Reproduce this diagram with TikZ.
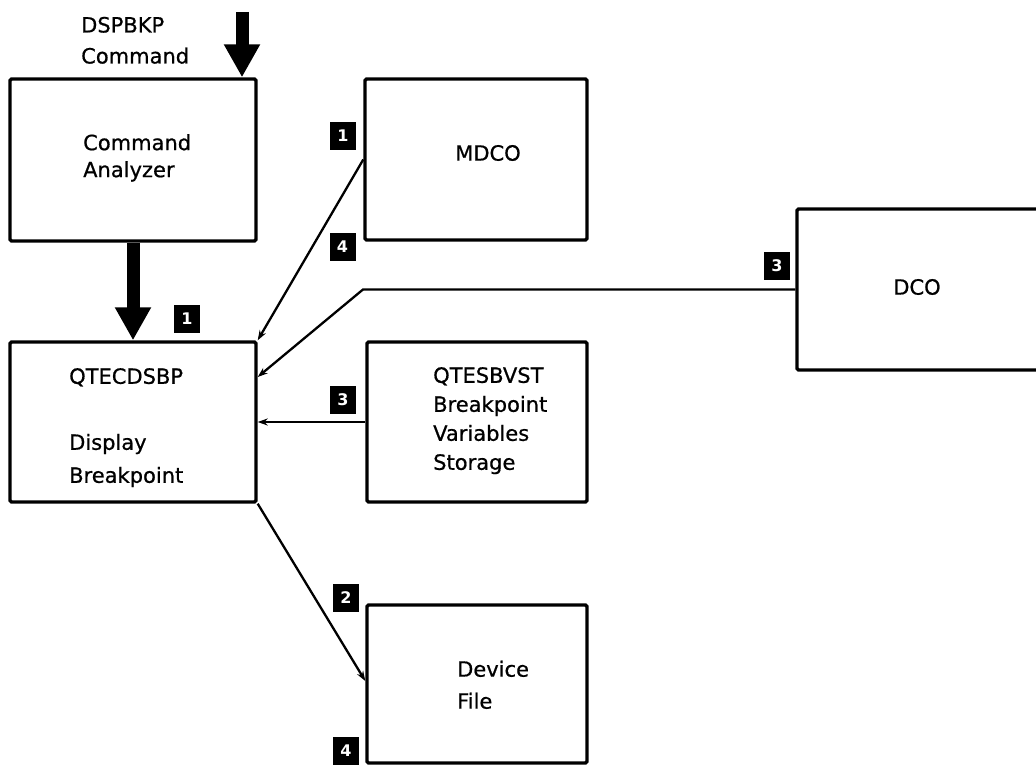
\documentclass[tikz,border=0pt]{standalone}
\usepackage{fontspec}
\setmainfont{DejaVu Sans}
\newfontfamily\boxfont{DejaVu Sans}[FakeBold=0.7]
\usetikzlibrary{arrows.meta}
\begin{document}
\begin{tikzpicture}[x=1pt,y=-1pt,
  box/.style={draw, line width=3.4pt, rounded corners=1.5pt, inner sep=0pt},
  txt/.style={inner sep=0pt, align=left, font=\boxfont\fontsize{21}{#1}\selectfont},
  txt/.default=30,
  tag/.style={fill=black, text=white, inner sep=0pt, minimum width=26pt,
    minimum height=28pt, font=\fontsize{16}{16}\selectfont\bfseries},
  flow/.style={line width=2.3pt, -{Stealth[length=10pt,width=7pt]}},
  bigflow/.style={line width=13pt, -{Triangle[length=33pt,width=34pt]}}]
\useasboundingbox (0,0) rectangle (1036,765);

% program and storage boxes
\node[box, minimum width=246pt, minimum height=162pt] (ca) at (133,160) {};
\node[box, minimum width=246pt, minimum height=160pt] (qt) at (133,422) {};
\node[box, minimum width=222pt, minimum height=161pt] (mdco) at (476,159.5) {};
\node[box, minimum width=243pt, minimum height=161pt] (dco) at (918.5,289.5) {};
\node[box, minimum width=220pt, minimum height=160pt] (sbv) at (477,422) {};
\node[box, minimum width=220pt, minimum height=158pt] (dev) at (477,684) {};

% box texts
\node[txt=31, anchor=north west] (cmd) at (81,16.7) {DSPBKP\\Command};
\node[txt=27, anchor=north west] (ca-t) at (83,134) {Command\\Analyzer};
\node[txt=33, anchor=north west] (qt-t) at (69,368) {QTECDSBP\\[33pt]Display\\Breakpoint};
\node[txt] (mdco-t) at (488,153) {MDCO};
\node[txt] (dco-t) at (917,287) {DCO};
\node[txt=29, anchor=north west] (sbv-t) at (433,367) {QTESBVST\\Breakpoint\\Variables\\Storage};
\node[txt=32, anchor=north west] (dev-t) at (457,660.5) {Device\\File};

% step numbers
\node[tag] (t1a) at (187,319) {1};
\node[tag] (t1b) at (343,136) {1};
\node[tag] (t4a) at (342.5,247) {4};
\node[tag] (t3a) at (777,266) {3};
\node[tag] (t3b) at (343,400) {3};
\node[tag] (t2) at (346,598) {2};
\node[tag] (t4b) at (346,751) {4};

% command flow
\coordinate (cmdin) at (242,12);
\draw[bigflow] (cmdin) -- (cmdin |- ca.north);
\draw[bigflow] (ca.south) -- (qt.north);

% data flows
\coordinate (bend) at (363,289.5);
\draw[flow] (mdco.west) -- (qt.north east);
\draw[flow] (dco.west) -- (bend) -- ([yshift=45pt]qt.east);
\draw[flow] (sbv.west) -- (qt.east);
\draw[flow] (qt.south east) -- ([yshift=3pt]dev.west);
\end{tikzpicture}
\end{document}
